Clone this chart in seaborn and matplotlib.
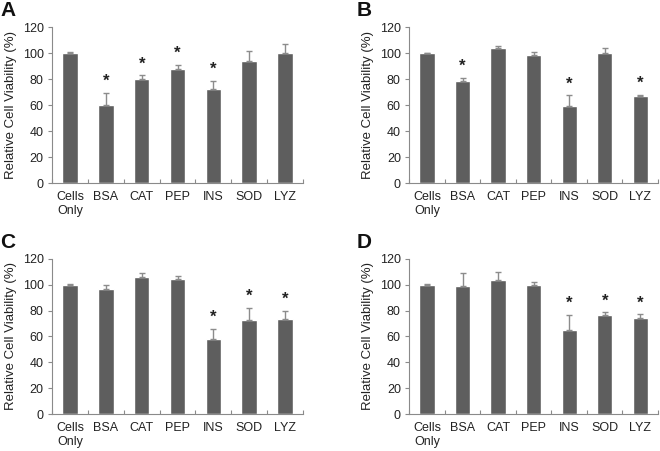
import numpy as np
import pandas as pd
import matplotlib
matplotlib.use('Agg')
import matplotlib.pyplot as plt
import seaborn as sns

# категории и значения
categories = ['Cells\nOnly', 'BSA', 'CAT', 'PEP', 'INS', 'SOD', 'LYZ']

viab_a = [100, 60.1, 80.4, 88.1, 72.7, 93.8, 100.0]
err_a = [0.5, 9.5, 2.6, 2.6, 5.7, 7.5, 7.2]
star_a = [0, 1, 1, 1, 1, 0, 0]

viab_b = [100, 78.9, 103.6, 98.2, 59.3, 100.0, 66.8]
err_b = [0.3, 1.8, 1.8, 2.6, 8.2, 3.6, 1.2]
star_b = [0, 1, 0, 0, 1, 0, 1]

viab_c = [100, 96.9, 105.7, 104.6, 58.0, 72.7, 73.5]
err_c = [0.3, 2.8, 3.3, 2.1, 7.7, 9.3, 6.4]
star_c = [0, 0, 0, 0, 1, 1, 1]

viab_d = [100, 99.0, 103.9, 100.0, 65.0, 76.8, 74.0]
err_d = [0.3, 10.0, 5.6, 2.0, 11.5, 1.8, 3.0]
star_d = [0, 0, 0, 0, 1, 1, 1]

panel_letters = ['A', 'B', 'C', 'D']

sns.set_style('ticks')
plt.rcParams['font.family'] = ['Liberation Sans', 'DejaVu Sans']

bar_color = '#5e5e5e'
err_color = '#8c8c8c'
axis_color = '#8a8a8a'

fig = plt.figure(figsize=(6.6, 4.51), dpi=100)

# позиции панелей в долях фигуры
positions = [
    [0.079, 0.594, 0.380, 0.346],
    [0.620, 0.594, 0.377, 0.346],
    [0.079, 0.082, 0.380, 0.344],
    [0.620, 0.082, 0.377, 0.344],
]
panels = [(viab_a, err_a, star_a), (viab_b, err_b, star_b),
          (viab_c, err_c, star_c), (viab_d, err_d, star_d)]

for i, (vals, errs, stars) in enumerate(panels):
    ax = fig.add_axes(positions[i])
    df = pd.DataFrame({'sample': categories, 'viability': vals, 'err': errs})

    sns.barplot(data=df, x='sample', y='viability', color=bar_color,
                saturation=1, width=0.43, errorbar=None, ax=ax)

    xs = np.arange(len(categories))
    ax.errorbar(xs, df['viability'], yerr=[np.zeros(len(errs)), df['err']],
                fmt='none', ecolor=err_color, elinewidth=1.0, capsize=2.5,
                capthick=1.0, zorder=3)

    # звездочки значимости
    for x, v, e, s in zip(xs, vals, errs, stars):
        if s:
            ax.text(x, v + e + 3, '*', ha='center', va='bottom',
                    fontsize=12, fontweight='bold', color='#222222')

    ax.set_ylim(0, 120)
    ax.set_yticks(range(0, 121, 20))
    ax.set_xlim(-0.5, len(categories) - 0.5)
    ax.set_xticks(xs)
    ax.set_xticks(np.arange(-0.5, len(categories)), minor=True)
    ax.tick_params(axis='x', which='major', length=0, labelsize=9,
                   pad=6, colors='#222222')
    ax.tick_params(axis='x', which='minor', length=3, direction='in',
                   color=axis_color, width=0.8)
    ax.tick_params(axis='y', length=3, direction='out', color=axis_color,
                   width=0.8, labelsize=9, labelcolor='#222222', pad=3)
    ax.set_xlabel('')
    ax.set_ylabel('Relative Cell Viability (%)', fontsize=9.5, color='#222222',
                  labelpad=4)
    sns.despine(ax=ax)
    for sp in ['left', 'bottom']:
        ax.spines[sp].set_color(axis_color)
        ax.spines[sp].set_linewidth(0.8)

    x0 = positions[i][0]
    y1 = positions[i][1] + positions[i][3]
    fig.text(x0 - 0.079, y1 + 0.058, panel_letters[i], fontsize=15,
             fontweight='bold', ha='left', va='top', color='#111111')

fig.savefig('out.png', dpi=100)
